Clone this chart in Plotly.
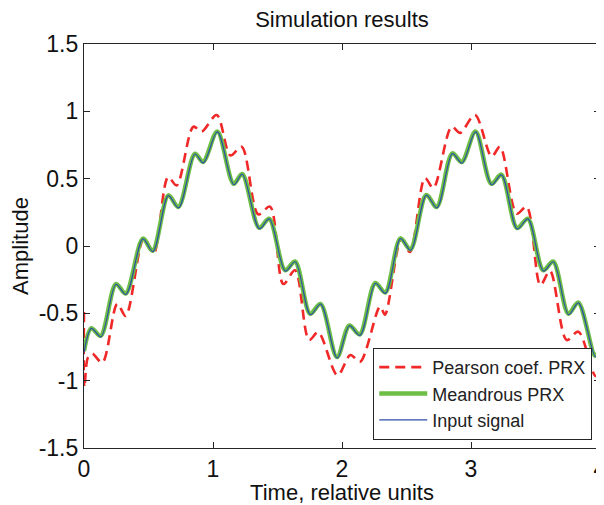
import plotly.graph_objects as go

# Meandrous PRX (green) - read extrema
t_meandrous = [0, 0.057, 0.129, 0.248, 0.323, 0.457, 0.532, 0.654, 0.731, 0.86, 0.923, 1.033,
               1.16, 1.226, 1.358, 1.435, 1.559, 1.636, 1.753, 1.833, 1.961, 2.057, 2.137,
               2.258, 2.335, 2.453, 2.53, 2.653, 2.734, 2.855, 2.928, 3.035, 3.158, 3.235,
               3.357, 3.44, 3.56, 3.637, 3.755, 3.831, 3.962, 4.0]
y_meandrous = [-0.78, -0.61, -0.667, -0.282, -0.353, 0.055, -0.035, 0.376, 0.29, 0.685, 0.624, 0.85,
               0.462, 0.535, 0.135, 0.203, -0.18, -0.115, -0.503, -0.43, -0.825, -0.59, -0.657,
               -0.275, -0.345, 0.057, -0.025, 0.379, 0.29, 0.688, 0.623, 0.85, 0.462, 0.53,
               0.133, 0.203, -0.18, -0.115, -0.503, -0.42, -0.815, -0.76]

# Input signal (blue)
t_input = [0, 0.058, 0.131, 0.248, 0.325, 0.457, 0.534, 0.654, 0.733, 0.86, 0.925, 1.034,
           1.162, 1.227, 1.36, 1.436, 1.561, 1.637, 1.755, 1.834, 1.963, 2.058, 2.139,
           2.259, 2.337, 2.454, 2.532, 2.654, 2.736, 2.856, 2.93, 3.036, 3.16, 3.236,
           3.359, 3.441, 3.562, 3.638, 3.757, 3.832, 3.964, 4.0]
y_input = [-0.79, -0.612, -0.675, -0.284, -0.36, 0.053, -0.042, 0.374, 0.283, 0.683, 0.617, 0.848,
           0.455, 0.533, 0.128, 0.201, -0.187, -0.117, -0.51, -0.432, -0.832, -0.592, -0.664,
           -0.277, -0.352, 0.055, -0.032, 0.377, 0.283, 0.686, 0.616, 0.848, 0.455, 0.528,
           0.126, 0.201, -0.187, -0.117, -0.51, -0.422, -0.822, -0.765]

# Pearson coef. PRX (red dashed)
t_pearson = [0, 0.003, 0.03, 0.064, 0.142, 0.258, 0.323, 0.465, 0.54, 0.652, 0.718, 0.848, 0.912,
             1.029, 1.135, 1.222, 1.351, 1.442, 1.545, 1.636, 1.745, 1.816, 1.965, 2.065, 2.14,
             2.295, 2.333, 2.46, 2.527, 2.643, 2.708, 2.85, 2.915, 3.031, 3.16, 3.225, 3.354,
             3.431, 3.538, 3.612, 3.742, 3.832, 3.965, 4.0]
y_pearson = [-0.49, -1.05, -0.83, -0.80, -0.866, -0.43, -0.52, 0.06, -0.055, 0.512, 0.45, 0.886, 0.849,
             0.973, 0.672, 0.737, 0.235, 0.292, -0.282, -0.18, -0.698, -0.64, -0.96, -0.81, -0.86,
             -0.45, -0.51, 0.05, -0.045, 0.505, 0.43, 0.886, 0.84, 0.973, 0.665, 0.737, 0.24,
             0.292, -0.29, -0.185, -0.698, -0.636, -0.965, -0.93]

x_ticks = [0, 1, 2, 3, 4]
y_ticks = [-1.5, -1, -0.5, 0, 0.5, 1, 1.5]
y_tick_text = ["-1.5", "-1", "-0.5", "0", "0.5", "1", "1.5"]

FONT = "Liberation Sans, Arial, sans-serif"

# page body adds an 8px offset; figure is sized to fill the rest of the window
W, H = 596, 497

fig = go.Figure()
fig.add_trace(go.Scatter(x=t_pearson, y=y_pearson, mode="lines", name="Pearson coef. PRX",
                         line=dict(color="#F02828", width=2.6, dash="10px,6px",
                                   shape="spline", smoothing=0.9)))
fig.add_trace(go.Scatter(x=t_meandrous, y=y_meandrous, mode="lines", name="Meandrous PRX",
                         line=dict(color="#6DBE45", width=4.5, shape="spline", smoothing=0.9)))
fig.add_trace(go.Scatter(x=t_input, y=y_input, mode="lines", name="Input signal",
                         line=dict(color="#2E4FA8", width=1.2, shape="spline", smoothing=0.9)))

axis_common = dict(showline=True, linecolor="#262626", linewidth=1.2, mirror="ticks",
                   ticks="inside", ticklen=6, tickcolor="#262626", tickwidth=1,
                   showgrid=False, zeroline=False, automargin=False,
                   ticklabeloverflow="allow",
                   tickfont=dict(family=FONT, size=23, color="#111111"))

fig.update_layout(
    width=W, height=H,
    margin=dict(l=76, r=4, t=36, b=57, autoexpand=False),
    paper_bgcolor="white", plot_bgcolor="white",
    title=dict(text="Simulation results", x=0.5, xref="paper", y=1 - 11 / H,
               yref="container", yanchor="middle", xanchor="center", automargin=False,
               font=dict(family=FONT, size=22, color="#111111")),
    xaxis=dict(range=[0, 4], tickvals=x_ticks, ticktext=[str(v) for v in x_ticks],
               title=dict(text="Time, relative units",
                          font=dict(family=FONT, size=22, color="#111111")),
               **axis_common),
    yaxis=dict(range=[-1.5, 1.5], tickvals=y_ticks, ticktext=y_tick_text,
               title=dict(text="Amplitude",
                          font=dict(family=FONT, size=22, color="#111111")),
               **axis_common),
    legend=dict(x=0.985, y=0.02, xanchor="right", yanchor="bottom",
                bgcolor="white", bordercolor="#262626", borderwidth=1,
                font=dict(family=FONT, size=18, color="#222222"),
                itemwidth=48, tracegroupgap=0),
    showlegend=True,
)

fig.write_html("out.html")
